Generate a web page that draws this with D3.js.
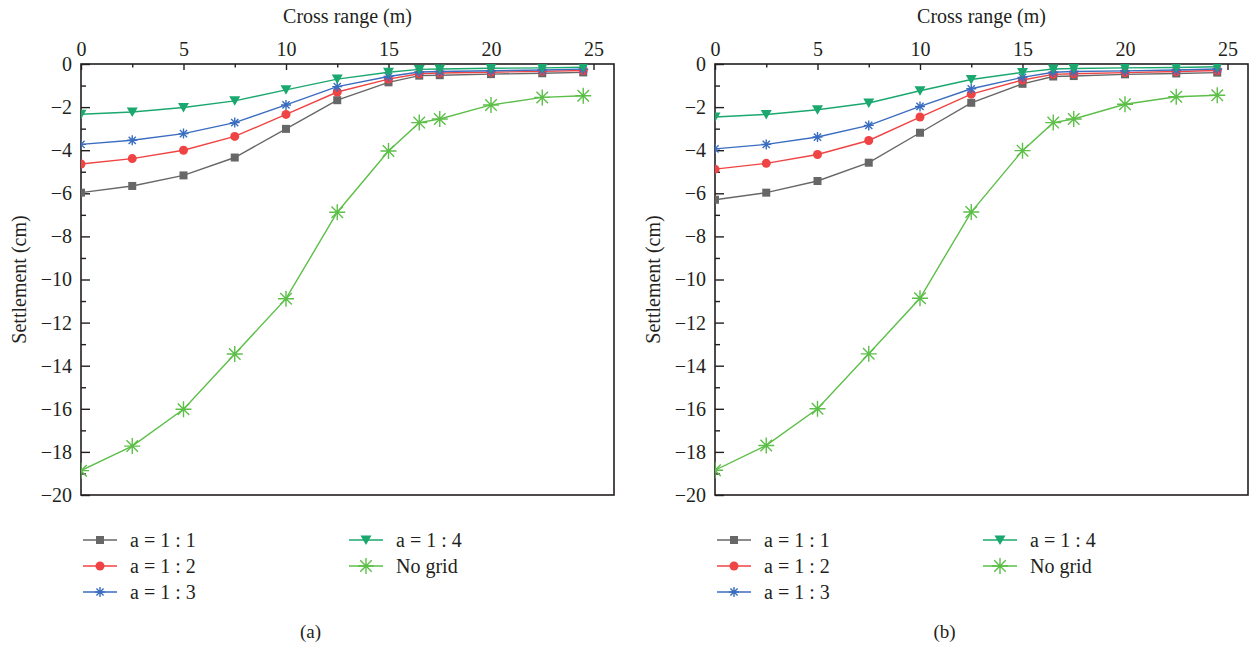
<!DOCTYPE html>
<html>
<head>
<meta charset="utf-8">
<script src="https://cdn.jsdelivr.net/npm/d3@7"></script>
<style>
  body { margin: 0; background: #fff; }
  svg text { font-family: "Liberation Serif", "DejaVu Serif", serif; fill: #231f20; }
</style>
</head>
<body>
<svg id="chart" width="1251" height="648"></svg>
<script>
// cross range positions (m)
const crossRange = [0, 2.5, 5, 7.5, 10, 12.5, 15, 16.5, 17.5, 20, 22.5, 24.5];
const xTicks = [0, 5, 10, 15, 20, 25];
const yTicks = [0, -2, -4, -6, -8, -10, -12, -14, -16, -18, -20];
const seriesNames = ["a = 1 : 1", "a = 1 : 2", "a = 1 : 3", "a = 1 : 4", "No grid"];

// panel (a) settlements (cm)
const a_r11 = [-5.97, -5.66, -5.17, -4.34, -3.01, -1.68, -0.85, -0.54, -0.52, -0.47, -0.43, -0.39];
const a_r12 = [-4.64, -4.39, -4.0, -3.36, -2.34, -1.3, -0.7, -0.45, -0.42, -0.38, -0.34, -0.3];
const a_r13 = [-3.73, -3.54, -3.23, -2.72, -1.9, -1.05, -0.58, -0.37, -0.35, -0.31, -0.28, -0.24];
const a_r14 = [-2.33, -2.23, -2.02, -1.71, -1.2, -0.7, -0.38, -0.25, -0.23, -0.2, -0.18, -0.15];
const a_none = [-18.87, -17.73, -16.02, -13.46, -10.89, -6.88, -4.04, -2.72, -2.55, -1.9, -1.55, -1.47];

// panel (b) settlements (cm)
const b_r11 = [-6.3, -5.97, -5.43, -4.58, -3.19, -1.8, -0.92, -0.58, -0.56, -0.48, -0.44, -0.4];
const b_r12 = [-4.88, -4.61, -4.2, -3.55, -2.46, -1.4, -0.74, -0.48, -0.45, -0.4, -0.35, -0.3];
const b_r13 = [-3.94, -3.73, -3.39, -2.85, -1.97, -1.15, -0.62, -0.38, -0.35, -0.32, -0.28, -0.23];
const b_r14 = [-2.46, -2.34, -2.12, -1.81, -1.24, -0.72, -0.39, -0.23, -0.21, -0.18, -0.16, -0.13];
const b_none = [-18.85, -17.7, -16.0, -13.45, -10.87, -6.87, -4.02, -2.72, -2.55, -1.87, -1.52, -1.45];

const colors = ["#676767", "#f04343", "#3a6dc0", "#1aa86e", "#5cbf48"];
const markers = ["square", "circle", "star", "tri", "bigstar"];

const svg = d3.select("#chart");

function drawMarker(g, type, color, x, y) {
    if (type == "square") {
        g.append("rect").attr("x", x - 4).attr("y", y - 4).attr("width", 8).attr("height", 8).attr("fill", color);
    } else if (type == "circle") {
        g.append("circle").attr("cx", x).attr("cy", y).attr("r", 4.5).attr("fill", color);
    } else if (type == "tri") {
        g.append("path").attr("d", `M${x - 5.5},${y - 4.5}L${x + 5.5},${y - 4.5}L${x},${y + 5}Z`).attr("fill", color);
    } else {
        var r = type == "star" ? 5 : 8;
        var d = r * 0.72;
        g.append("path")
            .attr("d", `M${x - r},${y}L${x + r},${y}M${x},${y - r}L${x},${y + r}M${x - d},${y - d}L${x + d},${y + d}M${x - d},${y + d}L${x + d},${y - d}`)
            .attr("stroke", color).attr("stroke-width", 1.4).attr("fill", "none");
    }
}

function drawPanel(left, series, caption, id) {
    var w = 533, h = 431, top = 64;
    var g = svg.append("g").attr("transform", `translate(${left},${top})`);

    var x = d3.scaleLinear().domain([0, 26]).range([0, w]);
    var y = d3.scaleLinear().domain([0, -20]).range([0, h]);

    g.append("clipPath").attr("id", "clip" + id)
        .append("rect").attr("width", w).attr("height", h);

    // frame
    g.append("rect").attr("width", w).attr("height", h)
        .attr("fill", "none").attr("stroke", "#231f20").attr("stroke-width", 1.6);

    // x axis on top, ticks inward
    var xAxis = g.append("g").call(d3.axisTop(x).tickValues(xTicks).tickSize(-6).tickPadding(8));
    xAxis.selectAll(".tick line").attr("stroke", "#231f20").attr("stroke-width", 1.4);
    g.append("g").call(d3.axisTop(x).tickValues(d3.range(2.5, 25, 5)).tickSize(-3.5).tickFormat(""))
        .selectAll(".tick line").attr("stroke", "#231f20").attr("stroke-width", 1.4);

    // y axis left, ticks inward
    var yAxis = g.append("g").call(d3.axisLeft(y).tickValues(yTicks).tickSize(-9).tickPadding(9)
        .tickFormat(function(d){ return d == 0 ? "0" : "\u2212" + Math.abs(d); }));
    yAxis.selectAll(".tick line").attr("stroke", "#231f20").attr("stroke-width", 1.4);
    g.append("g").call(d3.axisLeft(y).tickValues(d3.range(-1, -20, -2)).tickSize(-5).tickFormat(""))
        .selectAll(".tick line").attr("stroke", "#231f20").attr("stroke-width", 1.4);

    g.selectAll(".domain").remove();
    g.selectAll(".tick text").style("font-size", "20px").attr("fill", "#231f20");

    // axis titles
    g.append("text").attr("x", w / 2).attr("y", -41)
        .attr("text-anchor", "middle").style("font-size", "20px").text("Cross range (m)");
    g.append("text").attr("transform", `translate(${-55},${h / 2}) rotate(-90)`)
        .attr("text-anchor", "middle").style("font-size", "20px").text("Settlement (cm)");

    // series
    var plot = g.append("g").attr("clip-path", `url(#clip${id})`);
    var line = d3.line()
        .x(function(d, i){ return x(crossRange[i]); })
        .y(function(d){ return y(d); });

    // draw no-grid first, then the rest on top (a=1:4 last)
    [4, 0, 1, 2, 3].forEach(function(k) {
        plot.append("path").datum(series[k])
            .attr("d", line).attr("fill", "none")
            .attr("stroke", colors[k]).attr("stroke-width", 1.4);
        series[k].forEach(function(v, i) {
            drawMarker(plot, markers[k], colors[k], x(crossRange[i]), y(v));
        });
    });

    // legend
    var leg = g.append("g").attr("transform", `translate(0,${h})`);
    var pos = [[0, 45], [0, 71], [0, 97], [266, 45], [266, 71]];
    seriesNames.forEach(function(name, k) {
        var lx = pos[k][0], ly = pos[k][1];
        leg.append("line").attr("x1", lx + 2).attr("x2", lx + 36).attr("y1", ly).attr("y2", ly)
            .attr("stroke", colors[k]).attr("stroke-width", 1.4);
        drawMarker(leg, markers[k], colors[k], lx + 19, ly);
        leg.append("text").attr("x", lx + 49).attr("y", ly + 7)
            .style("font-size", "20px").text(name);
    });

    // caption
    g.append("text").attr("x", w / 2 - 37).attr("y", h + 143)
        .attr("text-anchor", "middle").style("font-size", "19px").text(caption);
}

drawPanel(81, [a_r11, a_r12, a_r13, a_r14, a_none], "(a)", "a");
drawPanel(715, [b_r11, b_r12, b_r13, b_r14, b_none], "(b)", "b");
</script>
</body>
</html>
